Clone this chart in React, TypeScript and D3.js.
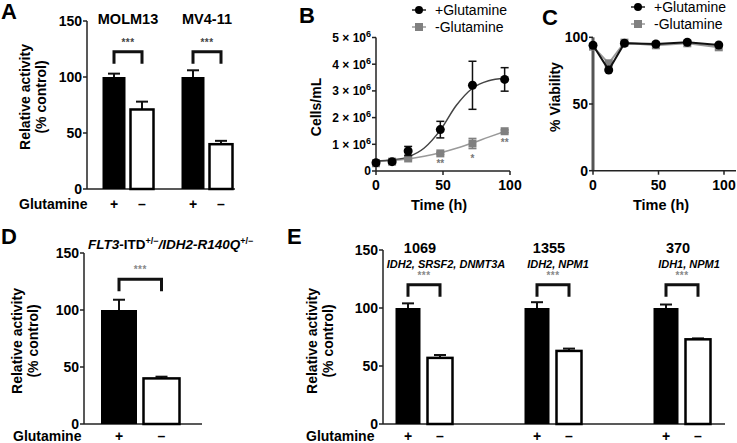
import React from "react";
import * as d3 from "d3";

const FONT = "'Liberation Sans', Arial, Helvetica, sans-serif";

// Panel A
const groupsA = ["MOLM13", "MV4-11"];
const plusA = [100, 100];
const plusErrA = [3, 6];
const minusA = [71, 40];
const minusErrA = [7, 3];

// Panel B (cells/mL, in millions)
const timeB = [0, 12, 24, 48, 72, 96];
const plusB = [0.31, 0.35, 0.75, 1.55, 3.21, 3.43];
const plusErrB = [0.05, 0.04, 0.17, 0.31, 0.9, 0.44];
const minusB = [0.29, 0.35, 0.47, 0.66, 1.03, 1.49];
const minusErrB = [0.03, 0.03, 0.04, 0.04, 0.19, 0.05];
const fitTimeB = [0, 12, 24, 36, 48, 60, 72, 84, 96];
const fitPlusB = [0.37, 0.42, 0.53, 0.86, 1.53, 2.46, 3.1, 3.38, 3.47];
const fitMinusB = [0.36, 0.39, 0.45, 0.55, 0.68, 0.85, 1.05, 1.27, 1.48];
const sigTimeB = [48, 72, 96];
const sigLabelB = ["**", "*", "**"];
const yTicksB = [0, 1, 2, 3, 4, 5];
const xTicksB = [0, 50, 100];

// Panel C
const timeC = [0, 12, 24, 48, 72, 96];
const plusC = [94, 75.5, 95.5, 95, 96.3, 94.2];
const plusErrC = [1, 1.5, 1, 1, 1, 1];
const minusC = [93, 80.5, 96, 94, 95.5, 92.5];
const minusErrC = [2, 2, 1, 2.5, 1, 1];
const yTicksC = [0, 50, 100];
const xTicksC = [0, 50, 100];

// Panel D
const condD = ["+", "–"];
const valD = [100, 40];
const errD = [9, 1.5];

// Panel E
const groupsE = ["1069", "1355", "370"];
const subE = ["IDH2, SRSF2, DNMT3A", "IDH2, NPM1", "IDH1, NPM1"];
const plusE = [100, 100, 100];
const plusErrE = [4, 5, 3];
const minusE = [57, 63, 73];
const minusErrE = [2.5, 2, 0.8];

const yTicksBar = [0, 50, 100, 150];

function YAxis({ x, scale, ticks, fmt, size = 14, stroke = "#222", sw = 1.5 }: any) {
  const [r0, r1] = scale.range();
  return (
    <g>
      <line x1={x} x2={x} y1={r0} y2={r1} stroke={stroke} strokeWidth={sw} />
      {ticks.map((t: number) => (
        <g key={t}>
          <line x1={x - 4} x2={x} y1={scale(t)} y2={scale(t)} stroke="#222" strokeWidth={1.5} />
          <text x={x - 5} y={scale(t)} dy="0.36em" textAnchor="end" fontSize={size} fontWeight="bold">
            {fmt ? fmt(t) : t}
          </text>
        </g>
      ))}
    </g>
  );
}

function ErrUp({ x, y0, y1, w = 12, sw = 2 }: any) {
  return (
    <g stroke="#111" strokeWidth={sw}>
      <line x1={x} x2={x} y1={y0} y2={y1} />
      <line x1={x - w / 2} x2={x + w / 2} y1={y1} y2={y1} />
    </g>
  );
}

function Bracket({ x1, x2, y, leg = 12, text, textColor = "#555" }: any) {
  return (
    <g>
      <path d={`M${x1},${y + leg}V${y}H${x2}V${y + leg}`} fill="none" stroke="#111" strokeWidth={3} />
      <text x={(x1 + x2) / 2} y={y - 6} textAnchor="middle" fontSize={10} fontWeight="bold" fill={textColor} letterSpacing={0.5}>
        {text}
      </text>
    </g>
  );
}

function YLabel2({ cx, cy, l1, l2, gap = 16, size = 14 }: any) {
  return (
    <text transform={`translate(${cx},${cy}) rotate(-90)`} textAnchor="middle" fontSize={size} fontWeight="bold">
      <tspan x={0} y={0}>{l1}</tspan>
      <tspan x={0} y={gap}>{l2}</tspan>
    </text>
  );
}

function PanelA() {
  const y = d3.scaleLinear().domain([0, 150]).range([189, 21]);
  const x = d3.scalePoint<string>().domain(groupsA).range([128, 207]);
  const off = 14, bw = 23;
  return (
    <g>
      <text x={1} y={19} fontSize={22} fontWeight="bold">A</text>
      <YLabel2 cx={30} cy={97} l1="Relative activity" l2="(% control)" />
      <YAxis x={87} scale={y} ticks={yTicksBar} />
      <line x1={87} x2={235} y1={y(0)} y2={y(0)} stroke="#222" strokeWidth={1.5} />
      {groupsA.map((g, i) => {
        const cx = x(g)!;
        return (
          <g key={g}>
            <text x={cx} y={24} textAnchor="middle" fontSize={14.5} fontWeight="bold">{g}</text>
            <ErrUp x={cx - off} y0={y(plusA[i])} y1={y(plusA[i] + plusErrA[i])} />
            <rect x={cx - off - bw / 2} y={y(plusA[i])} width={bw} height={y(0) - y(plusA[i])} fill="#000" />
            <ErrUp x={cx + off} y0={y(minusA[i])} y1={y(minusA[i] + minusErrA[i])} />
            <rect x={cx + off - bw / 2} y={y(minusA[i])} width={bw} height={y(0) - y(minusA[i])} fill="#fff" stroke="#000" strokeWidth={2.5} />
            <Bracket x1={cx - off} x2={cx + off} y={y(122.5)} text="***" textColor="#444" />
            <text x={cx - off} y={209} textAnchor="middle" fontSize={14} fontWeight="bold">+</text>
            <text x={cx + off} y={209} textAnchor="middle" fontSize={14} fontWeight="bold">–</text>
          </g>
        );
      })}
      <text x={19} y={209} fontSize={14} fontWeight="bold">Glutamine</text>
    </g>
  );
}

function Legend({ x, y }: any) {
  return (
    <g>
      <line x1={x - 7} x2={x + 7} y1={y} y2={y} stroke="#222" strokeWidth={1.5} />
      <circle cx={x} cy={y} r={4} fill="#000" />
      <text x={x + 16} y={y} dy="0.36em" fontSize={14}>+Glutamine</text>
      <line x1={x - 7} x2={x + 7} y1={y + 17} y2={y + 17} stroke="#999" strokeWidth={1.5} />
      <rect x={x - 4} y={y + 13} width={8} height={8} fill="#808080" />
      <text x={x + 16} y={y + 17} dy="0.36em" fontSize={14}>-Glutamine</text>
    </g>
  );
}

function sup6(v: number) {
  if (v === 0) return "0";
  return (
    <>
      {v} × 10<tspan fontSize={9} dy="-5">6</tspan>
    </>
  );
}

function PanelB() {
  const x = d3.scaleLinear().domain([0, 100]).range([376, 510]);
  const y = d3.scaleLinear().domain([0, 5]).range([171, 37.5]);
  const line = d3.line<number>().x((_, i) => x(fitTimeB[i])).y((d) => y(d)).curve(d3.curveMonotoneX);
  return (
    <g>
      <text x={299} y={23} fontSize={22} fontWeight="bold">B</text>
      <Legend x={419} y={10} />
      <text transform={`translate(321,107) rotate(-90)`} textAnchor="middle" fontSize={14} fontWeight="bold">Cells/mL</text>
      <YAxis x={376} scale={y} ticks={yTicksB} fmt={sup6} size={12} />
      <line x1={376} x2={510} y1={y(0)} y2={y(0)} stroke="#222" strokeWidth={1.5} />
      {xTicksB.map((t) => (
        <g key={t}>
          <line x1={x(t)} x2={x(t)} y1={y(0)} y2={y(0) + 4} stroke="#222" strokeWidth={1.5} />
          <text x={x(t)} y={190} textAnchor="middle" fontSize={14} fontWeight="bold">{t}</text>
        </g>
      ))}
      <text x={439} y={210} textAnchor="middle" fontSize={14.5} fontWeight="bold">Time (h)</text>
      <path d={line(fitMinusB)!} fill="none" stroke="#999" strokeWidth={1.5} />
      <path d={line(fitPlusB)!} fill="none" stroke="#444" strokeWidth={1.5} />
      {timeB.map((t, i) => (
        <g key={"m" + t}>
          <g stroke="#808080" strokeWidth={1.5}>
            <line x1={x(t)} x2={x(t)} y1={y(minusB[i] - minusErrB[i])} y2={y(minusB[i] + minusErrB[i])} />
            <line x1={x(t) - 4} x2={x(t) + 4} y1={y(minusB[i] - minusErrB[i])} y2={y(minusB[i] - minusErrB[i])} />
            <line x1={x(t) - 4} x2={x(t) + 4} y1={y(minusB[i] + minusErrB[i])} y2={y(minusB[i] + minusErrB[i])} />
          </g>
          <rect x={x(t) - 4} y={y(minusB[i]) - 4} width={8} height={8} fill="#808080" />
        </g>
      ))}
      {timeB.map((t, i) => (
        <g key={"p" + t}>
          <g stroke="#111" strokeWidth={1.5}>
            <line x1={x(t)} x2={x(t)} y1={y(plusB[i] - plusErrB[i])} y2={y(plusB[i] + plusErrB[i])} />
            <line x1={x(t) - 4} x2={x(t) + 4} y1={y(plusB[i] - plusErrB[i])} y2={y(plusB[i] - plusErrB[i])} />
            <line x1={x(t) - 4} x2={x(t) + 4} y1={y(plusB[i] + plusErrB[i])} y2={y(plusB[i] + plusErrB[i])} />
          </g>
          <circle cx={x(t)} cy={y(plusB[i])} r={4.5} fill="#000" />
        </g>
      ))}
      {sigTimeB.map((t, i) => {
        const idx = timeB.indexOf(t);
        return (
          <text key={"s" + t} x={x(t)} y={y(minusB[idx] - minusErrB[idx]) + 13} textAnchor="middle" fontSize={10} fontWeight="bold" fill="#777">
            {sigLabelB[i]}
          </text>
        );
      })}
    </g>
  );
}

function PanelC() {
  const x = d3.scaleLinear().domain([0, 100]).range([593, 724]);
  const y = d3.scaleLinear().domain([0, 100]).range([170.7, 37.3]);
  const lineM = d3.line<number>().x((_, i) => x(timeC[i])).y((d) => y(d));
  return (
    <g>
      <text x={542} y={25} fontSize={22} fontWeight="bold">C</text>
      <Legend x={638} y={7} />
      <text transform={`translate(560,97) rotate(-90)`} textAnchor="middle" fontSize={14} fontWeight="bold">% Viability</text>
      <YAxis x={593} scale={y} ticks={yTicksC} stroke="#555" sw={3} />
      <line x1={593} x2={736} y1={y(0)} y2={y(0)} stroke="#222" strokeWidth={1.5} />
      {xTicksC.map((t) => (
        <g key={t}>
          <line x1={x(t)} x2={x(t)} y1={y(0)} y2={y(0) + 4} stroke="#222" strokeWidth={1.5} />
          <text x={x(t)} y={190} textAnchor="middle" fontSize={14} fontWeight="bold">{t}</text>
        </g>
      ))}
      <text x={661} y={210} textAnchor="middle" fontSize={14.5} fontWeight="bold">Time (h)</text>
      <path d={lineM(minusC)!} fill="none" stroke="#999" strokeWidth={2} />
      {timeC.map((t, i) => (
        <g key={"m" + t}>
          <line x1={x(t)} x2={x(t)} y1={y(minusC[i] - minusErrC[i])} y2={y(minusC[i] + minusErrC[i])} stroke="#808080" strokeWidth={1.5} />
          <rect x={x(t) - 4} y={y(minusC[i]) - 4} width={8} height={8} fill="#808080" />
        </g>
      ))}
      <path d={lineM(plusC)!} fill="none" stroke="#111" strokeWidth={2} />
      {timeC.map((t, i) => (
        <g key={"p" + t}>
          <line x1={x(t)} x2={x(t)} y1={y(plusC[i] - plusErrC[i])} y2={y(plusC[i] + plusErrC[i])} stroke="#111" strokeWidth={1.5} />
          <circle cx={x(t)} cy={y(plusC[i])} r={4.5} fill="#000" />
        </g>
      ))}
    </g>
  );
}

function PanelD() {
  const y = d3.scaleLinear().domain([0, 150]).range([424, 253]);
  const x = d3.scalePoint<string>().domain(condD).range([119, 161.5]);
  const bw = 36;
  return (
    <g>
      <text x={1} y={244} fontSize={22} fontWeight="bold">D</text>
      <YLabel2 cx={22} cy={341} l1="Relative activity" l2="(% control)" />
      <YAxis x={84} scale={y} ticks={yTicksBar} />
      <line x1={84} x2={202} y1={y(0)} y2={y(0)} stroke="#222" strokeWidth={1.5} />
      <text x={88} y={249} fontSize={13.5} fontWeight="bold">
        <tspan fontStyle="italic">FLT3</tspan>-ITD<tspan fontSize={9} dy="-5">+/−</tspan>
        <tspan fontStyle="italic" dy="5">/IDH2-R140Q</tspan><tspan fontSize={9} dy="-5">+/−</tspan>
      </text>
      {condD.map((c, i) => (
        <g key={c}>
          <ErrUp x={x(c)} y0={y(valD[i])} y1={y(valD[i] + errD[i])} />
          <rect x={x(c)! - bw / 2} y={y(valD[i])} width={bw} height={y(0) - y(valD[i])} fill={i === 0 ? "#000" : "#fff"} stroke="#000" strokeWidth={i === 0 ? 0 : 2.5} />
          <text x={x(c)} y={441} textAnchor="middle" fontSize={14} fontWeight="bold">{c}</text>
        </g>
      ))}
      <Bracket x1={x("+")} x2={x("–")} y={y(127)} text="***" textColor="#888" />
      <text x={13} y={441} fontSize={14} fontWeight="bold">Glutamine</text>
    </g>
  );
}

function PanelE() {
  const y = d3.scaleLinear().domain([0, 150]).range([424, 250]);
  const x = d3.scalePoint<string>().domain(groupsE).range([424, 682]);
  const off = 16, bw = 25;
  return (
    <g>
      <text x={287} y={244} fontSize={22} fontWeight="bold">E</text>
      <YLabel2 cx={317} cy={341} l1="Relative activity" l2="(% control)" />
      <YAxis x={383} scale={y} ticks={yTicksBar} />
      <line x1={383} x2={725} y1={y(0)} y2={y(0)} stroke="#222" strokeWidth={1.5} />
      {groupsE.map((g, i) => {
        const cx = x(g)!;
        return (
          <g key={g}>
            <text x={cx - 4} y={253} textAnchor="middle" fontSize={14.5} fontWeight="bold">{g}</text>
            <text x={cx + 22 - (i === 0 ? 0 : 17) + (i === 2 ? 2 : 0)} y={267.5} textAnchor="middle" fontSize={11} fontWeight="bold" fontStyle="italic">{subE[i]}</text>
            <ErrUp x={cx - off} y0={y(plusE[i])} y1={y(plusE[i] + plusErrE[i])} />
            <rect x={cx - off - bw / 2} y={y(plusE[i])} width={bw} height={y(0) - y(plusE[i])} fill="#000" />
            <ErrUp x={cx + off} y0={y(minusE[i])} y1={y(minusE[i] + minusErrE[i])} />
            <rect x={cx + off - bw / 2} y={y(minusE[i])} width={bw} height={y(0) - y(minusE[i])} fill="#fff" stroke="#000" strokeWidth={2.5} />
            <Bracket x1={cx - off} x2={cx + off} y={y(120)} text="***" textColor="#888" />
            <text x={cx - off} y={441} textAnchor="middle" fontSize={14} fontWeight="bold">+</text>
            <text x={cx + off} y={441} textAnchor="middle" fontSize={14} fontWeight="bold">–</text>
          </g>
        );
      })}
      <text x={306} y={441} fontSize={14} fontWeight="bold">Glutamine</text>
    </g>
  );
}

export default function App() {
  return (
    <svg width={737} height={443} style={{ position: "absolute", left: 0, top: 0, background: "#fff" }} fontFamily={FONT}>
      <rect width={737} height={443} fill="#fff" />
      <PanelA />
      <PanelB />
      <PanelC />
      <PanelD />
      <PanelE />
    </svg>
  );
}
